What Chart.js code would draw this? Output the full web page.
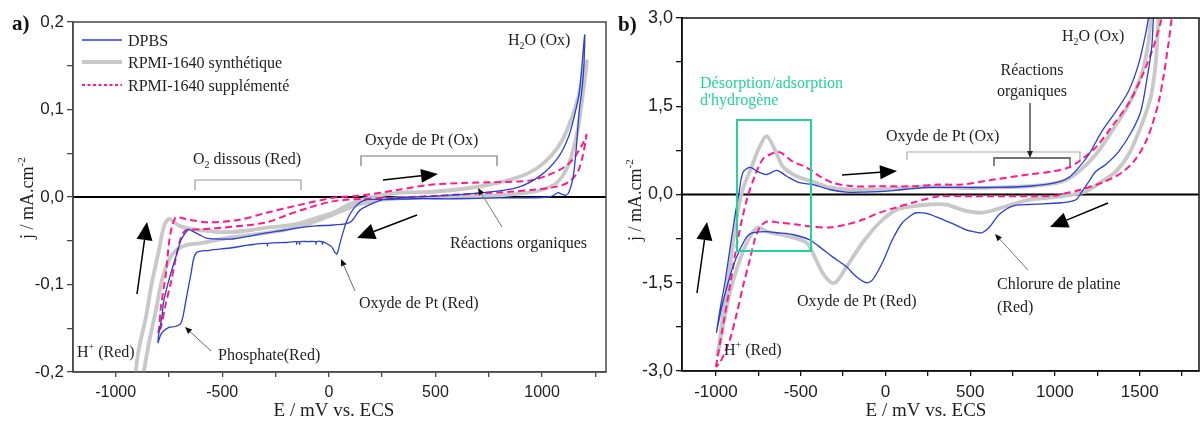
<!DOCTYPE html>
<html><head><meta charset="utf-8">
<script src="https://cdn.jsdelivr.net/npm/chart.js@4.4.0/dist/chart.umd.min.js"></script>
<style>
html,body{margin:0;padding:0;background:#fff;width:1201px;height:423px;overflow:hidden}
canvas{position:absolute;top:0}
#ca{left:0}
#cb{left:610px}
</style></head><body>
<canvas id="ca" width="610" height="423"></canvas>
<canvas id="cb" width="591" height="423"></canvas>
<script>
// ---------- DATA ----------
const seriesNames = ['DPBS', 'RPMI-1640 synthétique', 'RPMI-1640 supplémenté'];

// Panel a) — E (mV vs ECS), j (mA.cm-2)
const aDpbsE = [-802,-797,-783,-774,-741,-717,-693,-670,-656,-640,-608,-575,-520,-453,-380,-292,-210,-137,-60,19,99,146,208,255,320,500,726,887,995,1075,1123,1151,1175,1200,
  1196,1186,1175,1160,1146,1127,1113,1095,1075,1055,1030,950,800,600,400,250,179,132,90,66,50,38,25,14,-20,-27,-30,-33,-57,-60,-63,-100,-134,-137,-140,-148,-151,-154,-200,-285,-288,-291,-380,-453,-560,-623,-646,-670,-693,-720,-750,-783,-802];
const aDpbsJ = [-0.167,-0.155,-0.137,-0.118,-0.087,-0.068,-0.049,-0.040,-0.037,-0.039,-0.043,-0.047,-0.048,-0.048,-0.045,-0.041,-0.038,-0.035,-0.033,-0.032,-0.029,-0.015,-0.007,-0.003,-0.001,0.001,0.005,0.011,0.025,0.045,0.068,0.092,0.12,0.185,
  0.149,0.12,0.1,0.054,0.023,0.006,0.002,0.003,0.005,0.002,0.0,-0.001,-0.001,-0.002,-0.002,-0.003,-0.003,-0.009,-0.024,-0.041,-0.055,-0.065,-0.062,-0.057,-0.052,-0.051,-0.054,-0.051,-0.051,-0.054,-0.051,-0.051,-0.051,-0.054,-0.051,-0.051,-0.054,-0.051,-0.052,-0.053,-0.056,-0.053,-0.055,-0.058,-0.061,-0.064,-0.087,-0.118,-0.144,-0.148,-0.149,-0.155,-0.167];

const aSynE = [-930,-906,-892,-858,-830,-797,-774,-750,-725,-700,-656,-600,-520,-453,-370,-292,-210,-137,-60,19,99,200,335,491,651,807,934,1009,1075,1123,1170,1198,1210,
  1198,1170,1137,1104,1057,962,807,600,400,250,150,60,0,-137,-292,-453,-608,-670,-717,-750,-783,-811,-844,-868,-885,-910];
const aSynJ = [-0.26,-0.2,-0.175,-0.137,-0.098,-0.061,-0.034,-0.025,-0.029,-0.033,-0.036,-0.038,-0.040,-0.040,-0.038,-0.035,-0.033,-0.030,-0.024,-0.018,-0.008,0.0,0.005,0.006,0.010,0.017,0.027,0.039,0.057,0.08,0.114,0.149,0.155,
  0.13,0.08,0.046,0.027,0.014,0.006,0.002,0.0,-0.001,-0.003,-0.008,-0.016,-0.022,-0.034,-0.041,-0.046,-0.053,-0.055,-0.061,-0.072,-0.095,-0.129,-0.167,-0.2,-0.23,-0.28];

const aSupE = [-802,-797,-788,-764,-750,-736,-717,-690,-656,-561,-420,-292,-137,19,160,321,476,632,792,948,1028,1104,1151,1193,1208,
  1205,1190,1170,1140,1100,1050,950,850,700,476,300,160,19,-104,-200,-292,-453,-600,-670,-693,-717,-741,-764,-788,-802];
const aSupJ = [-0.155,-0.152,-0.126,-0.087,-0.053,-0.034,-0.023,-0.024,-0.026,-0.029,-0.026,-0.018,-0.009,-0.001,0.002,0.008,0.014,0.016,0.017,0.019,0.025,0.034,0.045,0.062,0.071,
  0.065,0.046,0.03,0.02,0.014,0.011,0.008,0.006,0.004,0.001,-0.001,-0.002,-0.005,-0.013,-0.021,-0.029,-0.034,-0.037,-0.038,-0.046,-0.069,-0.098,-0.121,-0.149,-0.155];

// Panel b)
const bDpbsE = [-997,-976,-947,-918,-888,-865,-841,-800,-753,-700,-641,-582,-506,-429,-329,-229,-130,-35,60,159,259,453,653,847,1006,1082,1141,1200,1276,1359,1435,1494,1535,1553,1575,
  1600,1582,1571,1541,1506,1453,1376,1300,1241,1200,1159,1124,1041,847,747,671,612,571,553,476,400,318,241,182,159,100,41,-18,-76,-112,-171,-229,-312,-388,-447,-547,-641,-700,-782,-818,-859,-900,-935,-965,-997];
const bDpbsJ = [-2.35,-1.96,-1.5,-0.94,-0.37,0.0,0.37,0.46,0.39,0.34,0.41,0.31,0.20,0.17,0.085,0.04,0.04,0.05,0.07,0.10,0.12,0.12,0.12,0.14,0.2,0.29,0.46,0.68,1.07,1.41,1.76,2.22,2.73,3.02,3.4,
  3.4,3.02,2.5,1.93,1.41,1.07,0.73,0.51,0.39,0.22,0.05,-0.09,-0.14,-0.17,-0.2,-0.34,-0.56,-0.65,-0.65,-0.60,-0.5,-0.40,-0.32,-0.31,-0.34,-0.48,-0.77,-1.16,-1.45,-1.50,-1.40,-1.23,-1.06,-0.89,-0.77,-0.68,-0.65,-0.63,-0.65,-0.72,-0.94,-1.23,-1.57,-1.91,-2.35];

const bSynE = [-995,-988,-959,-918,-876,-841,-788,-741,-700,-653,-606,-524,-429,-329,-229,-130,-35,60,159,318,453,650,847,1041,1141,1241,1335,1435,1512,1553,1565,1580,
  1625,1612,1594,1565,1512,1435,1359,1276,1182,1041,847,712,620,553,453,359,259,159,65,-35,-135,-229,-288,-318,-371,-429,-465,-547,-624,-700,-753,-800,-859,-918,-959,-988,-995];
const bSynJ = [-2.75,-2.69,-2.08,-1.23,-0.37,0.09,0.48,0.82,0.99,0.77,0.48,0.31,0.22,0.12,0.085,0.08,0.085,0.1,0.12,0.13,0.11,0.12,0.14,0.22,0.39,0.68,1.07,1.53,2.05,2.61,3.02,3.4,
  3.4,3.02,2.22,1.65,1.19,0.68,0.39,0.22,0.05,-0.03,-0.09,-0.2,-0.28,-0.31,-0.26,-0.17,-0.17,-0.2,-0.26,-0.48,-0.82,-1.23,-1.48,-1.5,-1.33,-0.99,-0.82,-0.73,-0.68,-0.63,-0.56,-0.72,-1.11,-1.67,-2.25,-2.69,-2.75];

const bSupE = [-1000,-965,-918,-871,-818,-771,-724,-682,-624,-547,-465,-388,-312,-194,-35,159,318,453,653,847,1000,1082,1141,1241,1335,1435,1512,1580,1630,1650,
  1700,1688,1671,1641,1612,1571,1535,1476,1394,1276,1150,1060,1000,847,653,453,318,159,65,-35,-135,-229,-329,-429,-524,-624,-700,-741,-771,-800,-841,-876,-918,-976,-1000];
const bSupJ = [-2.93,-2.35,-1.57,-0.77,-0.09,0.31,0.6,0.68,0.72,0.56,0.46,0.31,0.2,0.14,0.14,0.14,0.17,0.17,0.26,0.34,0.40,0.46,0.56,0.8,1.15,1.55,2.0,2.5,3.0,3.3,
  3.3,2.98,2.59,2.01,1.57,1.16,0.89,0.6,0.37,0.2,0.08,0.02,-0.02,-0.03,-0.03,-0.03,-0.03,-0.14,-0.22,-0.31,-0.43,-0.51,-0.56,-0.55,-0.51,-0.48,-0.46,-0.56,-0.77,-1.11,-1.57,-2.01,-2.47,-2.86,-2.93];

// Axis ticks
const aXTicks = [-1000, -500, 0, 500, 1000];
const aYTicks = [-0.2, -0.1, 0, 0.1, 0.2];
const bXTicks = [-1000, -500, 0, 500, 1000, 1500];
const bYTicks = [-3, -1.5, 0, 1.5, 3];

// ---------- STYLE ----------
const F_SANS = '"Liberation Sans", Arial, sans-serif';
const F_SERIF = '"Liberation Serif", "Times New Roman", serif';
const C_BLUE = '#2b3fd0', C_GRAY = '#c8c8c8', C_PINK = '#ff1a8c', C_TXT = '#1e1e1e';

function pts(E, J) { return E.map((e, i) => ({ x: e, y: J[i] })); }
function withMinors(majors, min, max) {
  const step = majors[1] - majors[0];
  const out = [];
  for (let v = majors[0] - step / 2; v <= max + 1e-9; v += step / 2) {
    const r = parseFloat(v.toFixed(6));
    if (r >= min - 1e-9) out.push(majors.find(m => Math.abs(m - r) < 1e-9) ?? r);
  }
  return out;
}
function fmtComma(v) { return v.toFixed(1).replace('.', ','); }

function rich(ctx, parts, x, y, size, align) {
  let w = 0;
  parts.forEach(p => { ctx.font = (p.s ? size * 0.62 : size) + 'px ' + F_SERIF; w += ctx.measureText(p.t).width; });
  let cx = align === 'center' ? x - w / 2 : x;
  parts.forEach(p => {
    const fs = p.s ? size * 0.62 : size;
    ctx.font = fs + 'px ' + F_SERIF;
    const dy = p.s === 'sub' ? size * 0.22 : p.s === 'sup' ? -size * 0.42 : 0;
    ctx.fillText(p.t, cx, y + dy);
    cx += ctx.measureText(p.t).width;
  });
}
function txt(ctx, s, x, y, size, color, align) {
  ctx.font = size + 'px ' + F_SERIF; ctx.fillStyle = color || C_TXT;
  ctx.textAlign = align || 'left'; ctx.fillText(s, x, y); ctx.textAlign = 'left';
}
function arrow(ctx, x1, y1, x2, y2, hl, hw, lineColor, lw, headColor) {
  const a = Math.atan2(y2 - y1, x2 - x1);
  const bx = x2 - hl * Math.cos(a), by = y2 - hl * Math.sin(a);
  ctx.strokeStyle = lineColor; ctx.lineWidth = lw; ctx.setLineDash([]);
  ctx.beginPath(); ctx.moveTo(x1, y1); ctx.lineTo(bx, by); ctx.stroke();
  ctx.fillStyle = headColor || lineColor;
  ctx.beginPath(); ctx.moveTo(x2, y2);
  ctx.lineTo(bx + hw * Math.sin(a), by - hw * Math.cos(a));
  ctx.lineTo(bx - hw * Math.sin(a), by + hw * Math.cos(a));
  ctx.closePath(); ctx.fill();
}
function bracket(ctx, x1, x2, y, h, color, lw) {
  ctx.strokeStyle = color; ctx.lineWidth = lw; ctx.setLineDash([]);
  ctx.beginPath(); ctx.moveTo(x1, y + h); ctx.lineTo(x1, y); ctx.lineTo(x2, y); ctx.lineTo(x2, y + h); ctx.stroke();
}

function makeDatasets(dE, dJ, sE, sJ, pE, pJ) {
  return [
    { label: seriesNames[0], data: pts(dE, dJ), borderColor: C_BLUE, borderWidth: 1.3, tension: 0.3 },
    { label: seriesNames[2], data: pts(pE, pJ), borderColor: C_PINK, borderWidth: 2, borderDash: [7, 4], tension: 0.3 },
    { label: seriesNames[1], data: pts(sE, sJ), borderColor: C_GRAY, borderWidth: 3.8, tension: 0.3 }
  ].map(d => Object.assign(d, { showLine: true, pointRadius: 0, fill: false }));
}

function makeChart(canvas, o) {
  const xAll = withMinors(o.xMajors, o.xMin, o.xMax);
  const yAll = withMinors(o.yMajors, o.yMin, o.yMax);
  const frame = {
    id: 'frame',
    beforeDatasetsDraw(chart) {
      const { ctx, chartArea: ca, scales } = chart;
      const y0 = scales.y.getPixelForValue(0);
      ctx.save(); ctx.strokeStyle = '#000'; ctx.lineWidth = 2;
      ctx.beginPath(); ctx.moveTo(ca.left, y0); ctx.lineTo(ca.right, y0); ctx.stroke(); ctx.restore();
    },
    afterDraw(chart) {
      const { ctx, chartArea: ca } = chart;
      ctx.save(); ctx.strokeStyle = o.frameColor; ctx.lineWidth = 1.5;
      ctx.strokeRect(ca.left, ca.top, ca.right - ca.left, ca.bottom - ca.top);
      ctx.textBaseline = 'alphabetic';
      o.annotate(ctx, chart);
      ctx.restore();
    }
  };
  return new Chart(canvas, {
    type: 'scatter',
    data: { datasets: o.datasets },
    options: {
      responsive: false, animation: false,
      layout: { padding: o.padding },
      plugins: { legend: { display: false }, tooltip: { enabled: false } },
      scales: {
        x: {
          type: 'linear', min: o.xMin, max: o.xMax,
          afterBuildTicks: s => { s.ticks = xAll.map(v => ({ value: v })); },
          ticks: { autoSkip: false, maxRotation: 0, padding: 6, color: '#222', font: { family: F_SANS, size: o.xFont },
            callback: v => o.xMajors.includes(v) ? String(v) : '' },
          grid: { drawOnChartArea: false, drawTicks: true, tickLength: 5, color: o.frameColor, lineWidth: 1.3 },
          border: { display: true, color: o.frameColor, width: 1.5 },
          afterFit: s => { s.height = o.xH; s.paddingLeft = 0; s.paddingRight = 0; }
        },
        y: {
          type: 'linear', min: o.yMin, max: o.yMax,
          afterBuildTicks: s => { s.ticks = yAll.map(v => ({ value: v })); },
          ticks: { autoSkip: false, padding: 3, color: '#222', font: { family: F_SANS, size: o.yFont },
            callback: v => o.yMajors.includes(v) ? fmtComma(v) : '' },
          grid: { drawOnChartArea: false, drawTicks: true, tickLength: 6, color: o.frameColor, lineWidth: 1.3 },
          border: { display: true, color: o.frameColor, width: 1.5 },
          afterFit: s => { s.width = o.yW; s.paddingTop = 0; s.paddingBottom = 0; }
        }
      }
    },
    plugins: [frame]
  });
}

function yTitle(ctx, cx, cy) {
  ctx.save(); ctx.translate(cx, cy); ctx.rotate(-Math.PI / 2); ctx.fillStyle = C_TXT;
  rich(ctx, [{ t: 'j / mA.cm' }, { t: '-2', s: 'sup' }], 0, 6, 18, 'center');
  ctx.restore();
}

// ---------- PANEL A ----------
makeChart(document.getElementById('ca'), {
  datasets: makeDatasets(aDpbsE, aDpbsJ, aSynE, aSynJ, aSupE, aSupJ),
  xMin: -1200, xMax: 1300, yMin: -0.2, yMax: 0.2,
  xMajors: aXTicks, yMajors: aYTicks, xFont: 16, yFont: 17,
  padding: { left: 0, right: 4, top: 22, bottom: 0 }, yW: 73, xH: 51,
  frameColor: '#4a4a4a',
  annotate(ctx) {
    ctx.fillStyle = '#111'; ctx.font = 'bold 21px ' + F_SERIF; ctx.fillText('a)', 12, 30);
    // legend
    ctx.lineCap = 'butt';
    ctx.strokeStyle = C_BLUE; ctx.lineWidth = 1.3; ctx.beginPath(); ctx.moveTo(82, 40); ctx.lineTo(122, 40); ctx.stroke();
    ctx.strokeStyle = C_GRAY; ctx.lineWidth = 3.8; ctx.beginPath(); ctx.moveTo(82, 62); ctx.lineTo(122, 62); ctx.stroke();
    ctx.strokeStyle = C_PINK; ctx.lineWidth = 2; ctx.setLineDash([3, 2.5]); ctx.beginPath(); ctx.moveTo(82, 85); ctx.lineTo(122, 85); ctx.stroke(); ctx.setLineDash([]);
    txt(ctx, seriesNames[0], 128, 46, 16);
    txt(ctx, seriesNames[1], 128, 68, 16);
    txt(ctx, seriesNames[2], 128, 91, 16);
    // annotations
    ctx.fillStyle = C_TXT;
    rich(ctx, [{ t: 'H' }, { t: '2', s: 'sub' }, { t: 'O (Ox)' }], 508, 45, 16);
    txt(ctx, 'Oxyde de Pt (Ox)', 365, 145, 16);
    bracket(ctx, 361, 497, 156, 10, '#777', 1.2);
    arrow(ctx, 383, 180, 438, 174, 17, 7, '#000', 1.5);
    ctx.fillStyle = C_TXT;
    rich(ctx, [{ t: 'O' }, { t: '2', s: 'sub' }, { t: ' dissous (Red)' }], 193, 164, 16);
    bracket(ctx, 195, 301, 180, 10, '#999', 1.2);
    txt(ctx, 'Réactions organiques', 450, 248, 16);
    arrow(ctx, 502, 227, 478, 188, 7, 3, '#777', 1, '#111');
    arrow(ctx, 417, 215, 357, 238, 18, 8, '#000', 1.5);
    txt(ctx, 'Oxyde de Pt (Red)', 359, 308, 16);
    arrow(ctx, 355, 291, 341, 259, 7, 3, '#666', 1, '#111');
    arrow(ctx, 137, 294, 147, 222, 18, 8, '#000', 1.5);
    ctx.fillStyle = C_TXT;
    rich(ctx, [{ t: 'H' }, { t: '+', s: 'sup' }, { t: ' (Red)' }], 77, 357, 16);
    txt(ctx, 'Phosphate(Red)', 218, 360, 16);
    arrow(ctx, 211, 351, 185, 327, 7, 3, '#666', 1, '#111');
    yTitle(ctx, 27, 198);
    ctx.fillStyle = C_TXT; ctx.font = '19px ' + F_SERIF; ctx.textAlign = 'center';
    ctx.fillText('E / mV vs. ECS', 334, 416); ctx.textAlign = 'left';
  }
});

// ---------- PANEL B ----------
const OX = 610;
makeChart(document.getElementById('cb'), {
  datasets: makeDatasets(bDpbsE, bDpbsJ, bSynE, bSynJ, bSupE, bSupJ),
  xMin: -1200, xMax: 1850, yMin: -3, yMax: 3,
  xMajors: bXTicks, yMajors: bYTicks, xFont: 17, yFont: 18,
  padding: { left: 0, right: 2, top: 18, bottom: 0 }, yW: 72, xH: 52,
  frameColor: '#111',
  annotate(ctx) {
    ctx.save(); ctx.translate(-OX, 0);
    ctx.fillStyle = '#111'; ctx.font = 'bold 21px ' + F_SERIF; ctx.fillText('b)', 618, 31);
    const green = '#25d29a';
    txt(ctx, 'Désorption/adsorption', 700, 88, 16, green);
    txt(ctx, "d'hydrogène", 700, 105, 16, green);
    ctx.strokeStyle = green; ctx.lineWidth = 2; ctx.strokeRect(737, 120, 74, 131);
    txt(ctx, 'Oxyde de Pt (Ox)', 886, 141, 16);
    bracket(ctx, 907, 1080, 152, 8, '#aaa', 1.2);
    txt(ctx, 'Réactions', 1032, 75, 16, C_TXT, 'center');
    txt(ctx, 'organiques', 1032, 96, 16, C_TXT, 'center');
    arrow(ctx, 1030, 103, 1030, 158, 7, 3, '#222', 1.2);
    bracket(ctx, 994, 1070, 158, 8, '#444', 1.3);
    ctx.fillStyle = C_TXT;
    rich(ctx, [{ t: 'H' }, { t: '2', s: 'sub' }, { t: 'O (Ox)' }], 1062, 41, 16);
    arrow(ctx, 842, 175, 897, 171, 17, 7, '#000', 1.5);
    arrow(ctx, 1108, 203, 1050, 227, 18, 8, '#000', 1.5);
    arrow(ctx, 697, 293, 707, 222, 18, 8, '#000', 1.5);
    txt(ctx, 'Oxyde de Pt (Red)', 797, 306, 16);
    txt(ctx, 'Chlorure de platine', 997, 289, 16);
    txt(ctx, '(Red)', 997, 312, 16);
    arrow(ctx, 1028, 270, 995, 234, 7, 3, '#777', 1, '#111');
    ctx.fillStyle = C_TXT;
    rich(ctx, [{ t: 'H' }, { t: '+', s: 'sup' }, { t: ' (Red)' }], 724, 355, 16);
    yTitle(ctx, 635, 200);
    ctx.fillStyle = C_TXT; ctx.font = '19px ' + F_SERIF; ctx.textAlign = 'center';
    ctx.fillText('E / mV vs. ECS', 926, 416); ctx.textAlign = 'left';
    ctx.restore();
  }
});
</script>
</body></html>
